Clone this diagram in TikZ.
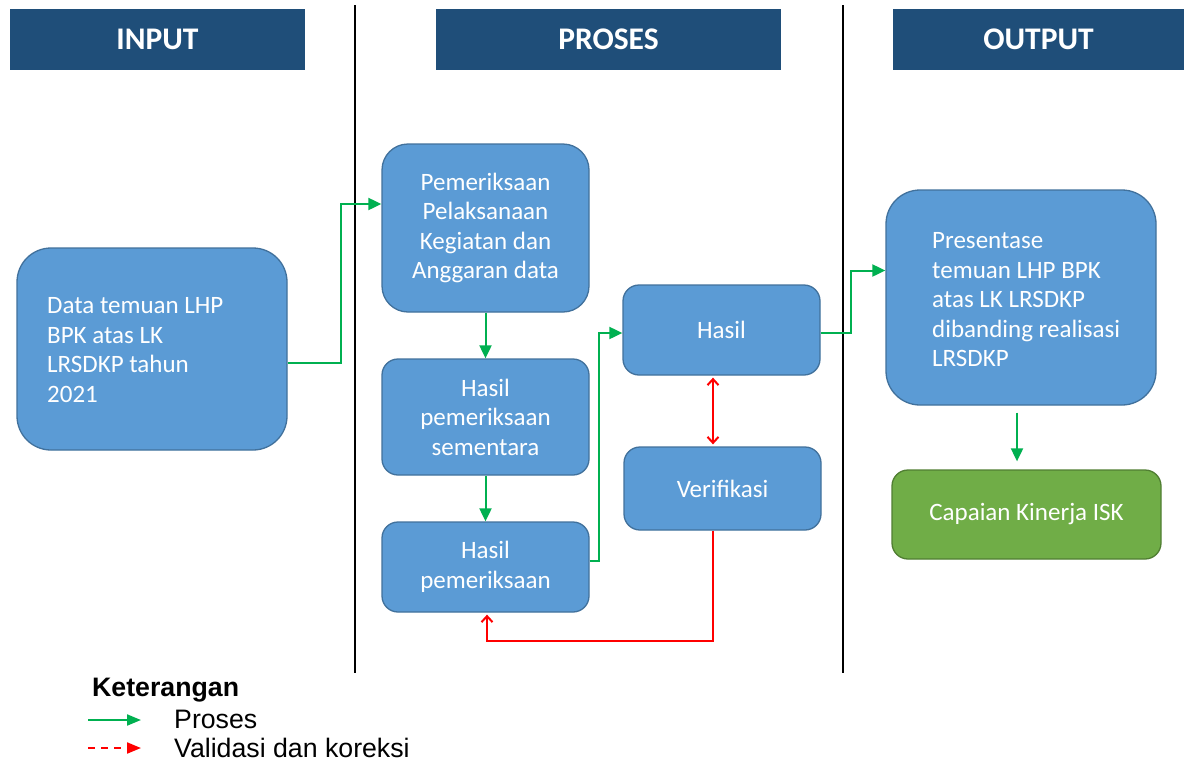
\documentclass[tikz,border=0pt]{standalone}
\usepackage{fontspec}
\setmainfont{Carlito}
\newfontfamily\legendfont{Liberation Sans}
\usetikzlibrary{arrows.meta}
\definecolor{boxblue}{HTML}{5B9BD5}
\definecolor{boxedge}{HTML}{41719C}
\definecolor{headblue}{HTML}{1F4E79}
\definecolor{procgreen}{HTML}{00B050}
\definecolor{capgreen}{HTML}{70AD47}
\definecolor{capedge}{HTML}{507E32}
\definecolor{valred}{HTML}{FF0000}
\tikzset{
  header/.style={fill=headblue, text=white, font=\bfseries\fontsize{31.5}{36}\selectfont, minimum width=#1, minimum height=61pt, inner sep=0pt},
  bluebox/.style={fill=boxblue, draw=boxedge, line width=1.3pt, text=white, font=\fontsize{25}{29.5}\selectfont, align=center, inner sep=0pt},
  greenbox/.style={fill=capgreen, draw=capedge, line width=1.3pt, text=white, font=\fontsize{25}{29.5}\selectfont, align=center, inner sep=0pt},
  boxtext/.style={text=white, font=\fontsize{25}{29.5}\selectfont, align=left, inner sep=0pt, anchor=west},
  proc/.style={draw=procgreen, line width=2pt, -{Triangle[length=13pt,width=12pt]}},
  valid/.style={draw=valred, line width=2pt, -{Straight Barb[length=6pt,width=11pt]}},
  divider/.style={draw=black, line width=1.3pt},
  legtext/.style={anchor=west, inner sep=0pt, font=\legendfont\fontsize{26.7}{30}\selectfont},
}
\begin{document}
\begin{tikzpicture}[x=1pt,y=-1pt]
\useasboundingbox (0,0) rectangle (1185,763);
\fill[white] (0,0) rectangle (1185,763);

% dividers
\coordinate (d1t) at (355,5);
\coordinate (d1b) at (355,673);
\coordinate (d2t) at (843,5);
\coordinate (d2b) at (843,673);
\draw[divider] (d1t) -- (d1b);
\draw[divider] (d2t) -- (d2b);

% headers
\node[header=295pt] (hin) at (157.5,39.5) {INPUT};
\node[header=345pt] (hpro) at (608.5,39.5) {PROSES};
\node[header=291pt] (hout) at (1038.5,39.5) {OUTPUT};

% boxes
\node[bluebox, rounded corners=34pt, minimum width=270pt, minimum height=202pt] (data) at (152,349) {};
\node[boxtext] (datat) at (47,350) {Data temuan LHP\\BPK atas LK\\LRSDKP tahun\\2021};

\node[bluebox, rounded corners=26pt, minimum width=207pt, minimum height=168pt] (pem) at (485.5,228) {Pemeriksaan\\Pelaksanaan\\Kegiatan dan\\Anggaran data};
\node[bluebox, rounded corners=16pt, minimum width=207pt, minimum height=116pt] (hps) at (485.5,417) {Hasil\\pemeriksaan\\sementara};
\node[bluebox, rounded corners=16pt, minimum width=207pt, minimum height=90pt] (hp) at (485.5,567) {Hasil\\pemeriksaan};
\node[bluebox, rounded corners=16pt, minimum width=197pt, minimum height=90pt] (hasil) at (721.5,330) {Hasil};
\node[bluebox, rounded corners=16pt, minimum width=197pt, minimum height=83pt] (verif) at (722.5,488.5) {Verifikasi};

\node[bluebox, rounded corners=34pt, minimum width=270pt, minimum height=215pt] (pres) at (1021,297.5) {};
\node[boxtext] (prest) at (932,300) {Presentase\\temuan LHP BPK\\atas LK LRSDKP\\dibanding realisasi\\LRSDKP};

\node[greenbox, rounded corners=16pt, minimum width=269pt, minimum height=89pt] (cap) at (1026.5,514.5) {Capaian Kinerja ISK};

% process arrows
\draw[proc] ([yshift=-14pt]data.east) -- ++(53,0) |- ([yshift=24pt]pem.west);
\draw[proc] (pem.south) -- (hps.north);
\draw[proc] (hps.south) -- (hp.north);
\draw[proc] ([yshift=6pt]hp.east) -- ++(9,0) |- ([yshift=-3pt]hasil.west);
\draw[proc] ([yshift=-3pt]hasil.east) -- ++(30,0) |- ([yshift=27pt]pres.west);
\draw[proc, shorten <=7pt, shorten >=8pt] ([xshift=-4pt]pres.south) -- ([xshift=-9.5pt]cap.north);

% validation arrows
\draw[valid, {Straight Barb[length=6pt,width=11pt]}-{Straight Barb[length=6pt,width=11pt]}, shorten <=2pt, shorten >=2pt] ([xshift=-8.5pt]hasil.south) -- ([xshift=-9.5pt]verif.north);
\draw[valid, shorten >=2pt] ([xshift=-9.5pt]verif.south) -- ++(0,110) -| ([xshift=1.5pt]hp.south);

% legend
\node[legtext, font=\legendfont\bfseries\fontsize{26.7}{30}\selectfont] (ket) at (92,690) {Keterangan};
\coordinate (lg1a) at (88,720);
\coordinate (lg1b) at (141,720);
\coordinate (lg2a) at (88,748);
\coordinate (lg2b) at (141,748);
\draw[proc, -{Triangle[length=14pt,width=11pt]}] (lg1a) -- (lg1b);
\draw[valid, dashed, dash pattern=on 7pt off 6pt, -{Triangle[length=14pt,width=11pt]}] (lg2a) -- (lg2b);
\node[legtext] (lgp) at (174,719) {Proses};
\node[legtext] (lgv) at (174,748) {Validasi dan koreksi};
\end{tikzpicture}
\end{document}
